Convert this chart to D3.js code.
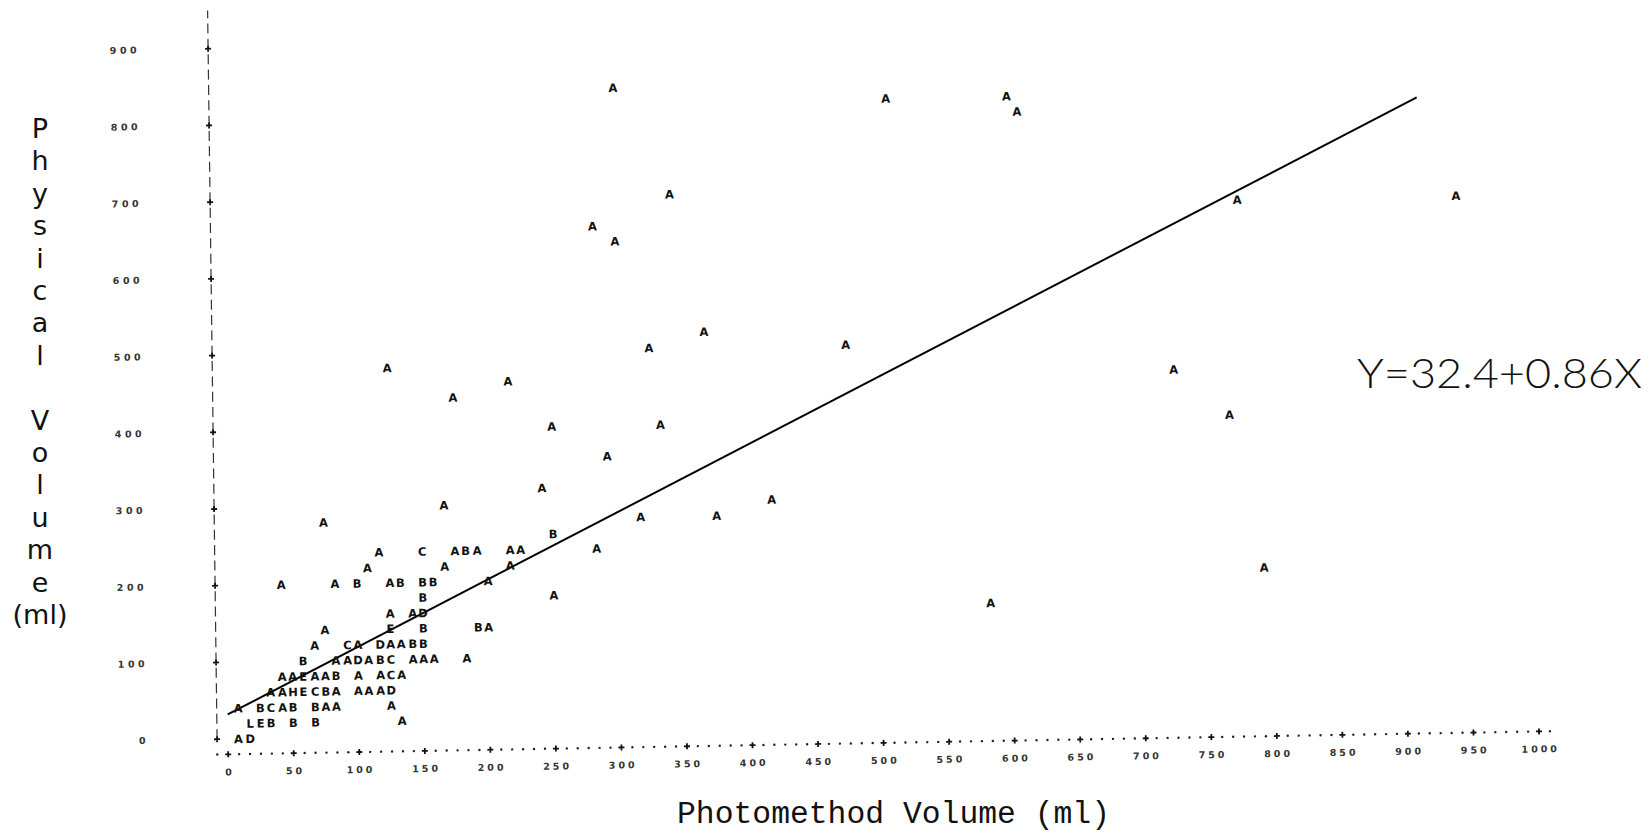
<!DOCTYPE html>
<html>
<head>
<meta charset="utf-8">
<script src="https://cdn.jsdelivr.net/npm/d3@7"></script>
<style>
  html, body { margin: 0; padding: 0; background: #fff; }
  svg { display: block; }
</style>
</head>
<body>
<div id="chart"></div>
<script>
// line printer scatter: letter = count at a print position (A=1, B=2, ...)
const points = [
  [8, 0, 'A'], [17, 0, 'D'],
  [17, 20, 'L'], [25, 20, 'E'], [33, 20, 'B'], [50, 20, 'B'], [67, 20, 'B'], [133, 20, 'A'],
  [8, 40, 'A'], [25, 40, 'B'], [33, 40, 'C'], [42, 40, 'A'], [50, 40, 'B'], [67, 40, 'B'], [75, 40, 'A'], [83, 40, 'A'], [125, 40, 'A'],
  [33, 60, 'A'], [42, 60, 'A'], [50, 60, 'H'], [58, 60, 'E'], [67, 60, 'C'], [75, 60, 'B'], [83, 60, 'A'], [100, 60, 'A'], [108, 60, 'A'], [117, 60, 'A'], [125, 60, 'D'],
  [42, 80, 'A'], [50, 80, 'A'], [58, 80, 'E'], [67, 80, 'A'], [75, 80, 'A'], [83, 80, 'B'], [100, 80, 'A'], [117, 80, 'A'], [125, 80, 'C'], [133, 80, 'A'],
  [58, 100, 'B'], [83, 100, 'A'], [92, 100, 'A'], [100, 100, 'D'], [108, 100, 'A'], [117, 100, 'B'], [125, 100, 'C'], [142, 100, 'A'], [150, 100, 'A'], [158, 100, 'A'], [183, 100, 'A'],
  [67, 120, 'A'], [92, 120, 'C'], [100, 120, 'A'], [117, 120, 'D'], [125, 120, 'A'], [133, 120, 'A'], [142, 120, 'B'], [150, 120, 'B'],
  [75, 140, 'A'], [125, 140, 'E'], [150, 140, 'B'], [192, 140, 'B'], [200, 140, 'A'],
  [125, 160, 'A'], [142, 160, 'A'], [150, 160, 'D'], [583, 160, 'A'],
  [150, 180, 'B'], [250, 180, 'A'],
  [42, 200, 'A'], [83, 200, 'A'], [100, 200, 'B'], [125, 200, 'A'], [133, 200, 'B'], [150, 200, 'B'], [158, 200, 'B'], [200, 200, 'A'], [792, 200, 'A'],
  [108, 220, 'A'], [167, 220, 'A'], [217, 220, 'A'],
  [117, 240, 'A'], [150, 240, 'C'], [175, 240, 'A'], [183, 240, 'B'], [192, 240, 'A'], [217, 240, 'A'], [225, 240, 'A'], [283, 240, 'A'],
  [250, 260, 'B'],
  [75, 280, 'A'], [317, 280, 'A'], [375, 280, 'A'],
  [167, 300, 'A'], [417, 300, 'A'],
  [242, 320, 'A'],
  [292, 360, 'A'],
  [250, 400, 'A'], [333, 400, 'A'], [767, 400, 'A'],
  [175, 440, 'A'],
  [217, 460, 'A'], [725, 460, 'A'],
  [125, 480, 'A'],
  [325, 500, 'A'], [475, 500, 'A'],
  [367, 520, 'A'],
  [300, 640, 'A'],
  [283, 660, 'A'],
  [775, 680, 'A'], [942, 680, 'A'],
  [342, 700, 'A'],
  [608, 800, 'A'],
  [508, 820, 'A'], [600, 820, 'A'],
  [300, 840, 'A']
];

// hand drawn fit line, end points
const fitX = [0, 913];
const fitY = [32, 809];
const equation = 'Y=32.4+0.86X';

const xTicks = [0, 50, 100, 150, 200, 250, 300, 350, 400, 450, 500, 550, 600, 650, 700, 750, 800, 850, 900, 950, 1000];
const yTicks = [0, 100, 200, 300, 400, 500, 600, 700, 800, 900];
const yLabelLetters = ['P', 'h', 'y', 's', 'i', 'c', 'a', 'l', '', 'V', 'o', 'l', 'u', 'm', 'e', '(ml)'];
const xTitle = 'Photomethod Volume (ml)';

const width = 1650, height = 832;
const svg = d3.select('#chart').append('svg')
  .attr('width', width)
  .attr('height', height);

svg.append('rect').attr('width', width).attr('height', height).attr('fill', '#fff');

const x = d3.scaleLinear().domain([0, 1000]).range([0, 1311]);
const y = d3.scaleLinear().domain([0, 900]).range([0, -690.5]);

const col = 50 / 6;          // one printer column, in data units
const axisX = x(-col);       // y axis sits one column left of zero
const axisY = y(-20);        // x axis sits one row below zero

// scanned page is a bit crooked
const plot = svg.append('g')
  .attr('transform', 'matrix(0.99985,-0.0175,0.013,0.99992,228,739)');

// y axis: broken vertical line with + every 100
plot.append('line')
  .attr('x1', axisX).attr('x2', axisX)
  .attr('y1', y(0)).attr('y2', y(950))
  .attr('stroke', '#333')
  .attr('stroke-width', 1.2)
  .attr('stroke-dasharray', '10 5.34');

plot.append('g')
  .selectAll('path')
  .data(yTicks)
  .join('path')
  .attr('d', d => `M${axisX - 3},${y(d)}h6M${axisX},${y(d) - 3}v6`)
  .attr('stroke', '#111')
  .attr('stroke-width', 1.8);

plot.append('g')
  .selectAll('text')
  .data(yTicks)
  .join('text')
  .attr('x', axisX - 68)
  .attr('y', d => y(d) + 3.5)
  .attr('text-anchor', 'end')
  .attr('font-family', 'DejaVu Sans')
  .attr('font-weight', 'bold')
  .attr('font-size', 9.5)
  .attr('letter-spacing', 3.5)
  .attr('fill', '#333')
  .text(d => d);

// x axis: dotted row, + every 50
const cols = d3.range(-1, 122).filter(c => c % 6 !== 0);
plot.append('g')
  .selectAll('circle')
  .data(cols)
  .join('circle')
  .attr('cx', c => x(c * col))
  .attr('cy', axisY)
  .attr('r', 1.2)
  .attr('fill', '#222');

plot.append('g')
  .selectAll('path')
  .data(xTicks)
  .join('path')
  .attr('d', d => `M${x(d) - 3},${axisY}h6M${x(d)},${axisY - 3}v6`)
  .attr('stroke', '#111')
  .attr('stroke-width', 1.8);

plot.append('g')
  .selectAll('text')
  .data(xTicks)
  .join('text')
  .attr('x', d => x(d) + 1.5)
  .attr('y', axisY + 21)
  .attr('text-anchor', 'middle')
  .attr('font-family', 'DejaVu Sans')
  .attr('font-weight', 'bold')
  .attr('font-size', 9.5)
  .attr('letter-spacing', 3)
  .attr('fill', '#333')
  .text(d => d);

// fit line
plot.append('line')
  .attr('x1', x(fitX[0])).attr('y1', y(fitY[0]))
  .attr('x2', x(fitX[1])).attr('y2', y(fitY[1]))
  .attr('stroke', '#000')
  .attr('stroke-width', 2);

// plotted symbols
plot.append('g')
  .selectAll('text')
  .data(points)
  .join('text')
  .attr('x', d => x(d[0]))
  .attr('y', d => y(d[1]) + 4.3)
  .attr('text-anchor', 'middle')
  .attr('font-family', 'DejaVu Sans')
  .attr('font-weight', 'bold')
  .attr('font-size', 11.5)
  .attr('fill', '#111')
  .text(d => d[2]);

// hand written y label, one letter per line
svg.append('g')
  .selectAll('text')
  .data(yLabelLetters)
  .join('text')
  .attr('x', 40)
  .attr('y', (d, i) => 138 + i * 32.4)
  .attr('text-anchor', 'middle')
  .attr('font-family', 'DejaVu Sans')
  .attr('font-size', 27)
  .attr('fill', '#111')
  .text(d => d);

svg.append('text')
  .attr('x', 677)
  .attr('y', 823)
  .attr('font-family', 'Liberation Mono, Courier New, monospace')
  .attr('font-size', 31)
  .attr('textLength', 433)
  .attr('lengthAdjust', 'spacingAndGlyphs')
  .attr('fill', '#111')
  .text(xTitle);

svg.append('text')
  .attr('x', 1357)
  .attr('y', 388)
  .attr('font-family', 'Lato')
  .attr('font-weight', 300)
  .attr('font-size', 42)
  .attr('textLength', 285)
  .attr('lengthAdjust', 'spacingAndGlyphs')
  .attr('fill', '#111')
  .text(equation);
</script>
</body>
</html>
